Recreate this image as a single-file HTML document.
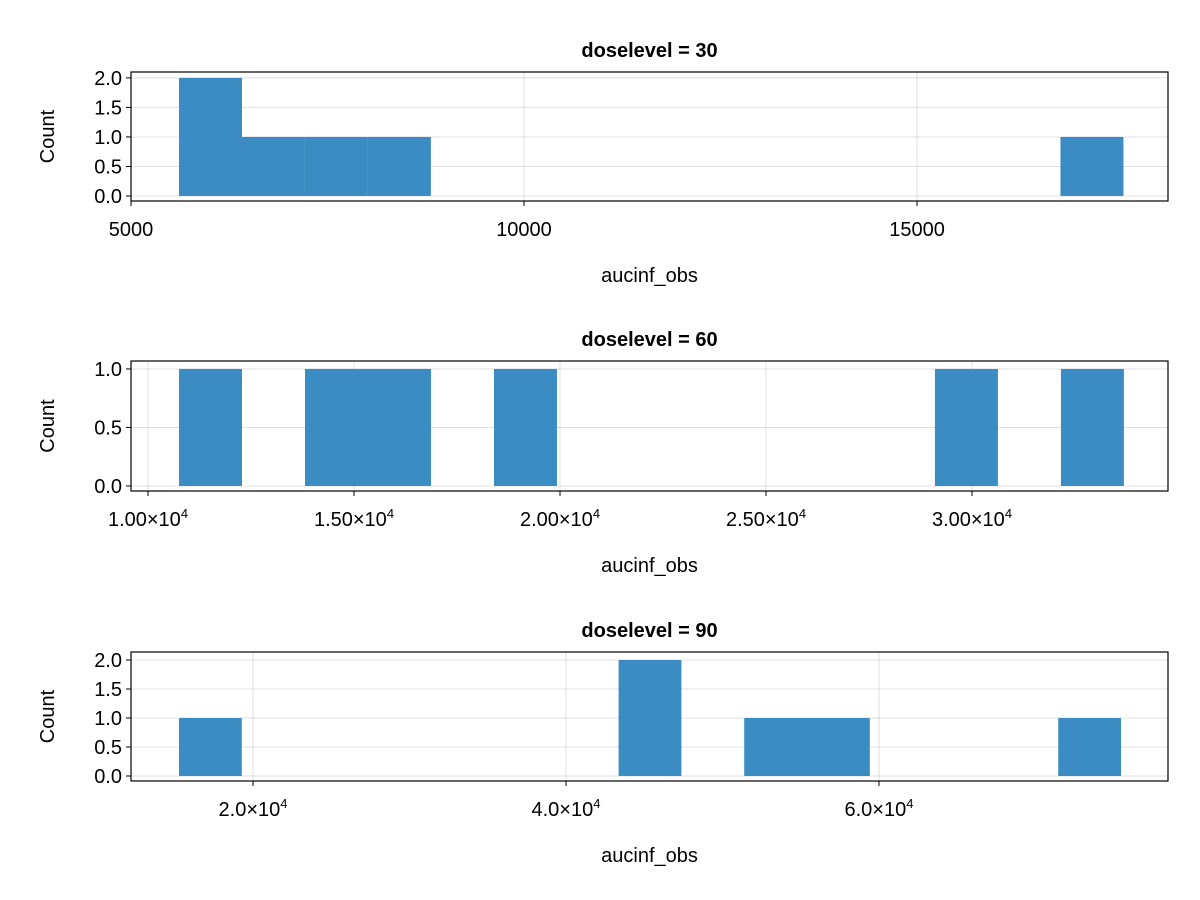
<!DOCTYPE html>
<html><head><meta charset="utf-8"><style>
html,body{margin:0;padding:0;background:#fff;}
svg{display:block;font-family:"Liberation Sans",Arial,sans-serif;}
</style></head><body>
<svg id="chart" width="1200" height="900" viewBox="0 0 1200 900" xmlns="http://www.w3.org/2000/svg"></svg>
<script>
// Panel data
const titles = ["doselevel = 30", "doselevel = 60", "doselevel = 90"];
const binStarts = [5611, 10752, 15272];
const binWidths = [801, 1529, 4013];
const counts30 = [2,1,1,1,0,0,0,0,0,0,0,0,0,0,1];
const counts60 = [1,0,1,1,0,1,0,0,0,0,0,0,1,0,1];
const counts90 = [1,0,0,0,0,0,0,2,0,1,1,0,0,0,1];
const xTicks30 = [5000,10000,15000];
const xTickLabels30 = ["5000","10000","15000"];
const xTicks60 = [10000,15000,20000,25000,30000];
const xTickLabels60 = ["1.00","1.50","2.00","2.50","3.00"];
const xTicks90 = [20000,40000,60000];
const xTickLabels90 = ["2.0","4.0","6.0"];
const yTicks2 = [0,0.5,1,1.5,2];
const yTicks1 = [0,0.5,1];

const panels = [
 {counts:counts30, xt:xTicks30, xl:xTickLabels30, sci:false, yt:yTicks2, xd:[5000,18193], yd:[-0.085,2.10], top:72, bot:201},
 {counts:counts60, xt:xTicks60, xl:xTickLabels60, sci:true, yt:yTicks1, xd:[9587,34757], yd:[-0.043,1.068], top:361, bot:491},
 {counts:counts90, xt:xTicks90, xl:xTickLabels90, sci:true, yt:yTicks2, xd:[12204,78469], yd:[-0.086,2.138], top:652, bot:781}
];
const svg = document.getElementById('chart');
const NS = "http://www.w3.org/2000/svg";
function mk(tag, attrs, parent){const e=document.createElementNS(NS,tag);for(const k in attrs)e.setAttribute(k,attrs[k]);(parent||svg).appendChild(e);return e;}
const L=131,R=1168;
panels.forEach((p,i)=>{
  const g=mk('g',{});
  
  
  const xs=v=>L+(v-p.xd[0])/(p.xd[1]-p.xd[0])*(R-L);
  const ys=v=>p.bot-(v-p.yd[0])/(p.yd[1]-p.yd[0])*(p.bot-p.top);
  // grid
  p.xt.forEach(v=>{const l=mk('line',{x1:xs(v),x2:xs(v),y1:p.top,y2:p.bot,stroke:'#000','stroke-opacity':0.12,'stroke-width':1},g);
    
    });
  p.yt.forEach(v=>{const l=mk('line',{x1:L,x2:R,y1:ys(v),y2:ys(v),stroke:'#000','stroke-opacity':0.12,'stroke-width':1},g);
    
    });
  // bars
  p.counts.forEach((c,k)=>{ if(c<=0)return;
    const x0=xs(binStarts[i]+k*binWidths[i]), x1=xs(binStarts[i]+(k+1)*binWidths[i]);
    const r=mk('rect',{x:x0,y:ys(c),width:x1-x0,height:ys(0)-ys(c),fill:'#3a8cc2'},g);
    
    });
  // frame
  const f=mk('rect',{x:L,y:p.top,width:R-L,height:p.bot-p.top,fill:'none',stroke:'#000','stroke-width':1.2},g);
  
  
  // x ticks
  p.xt.forEach((v,k)=>{
    mk('line',{x1:xs(v),x2:xs(v),y1:p.bot,y2:p.bot+5,stroke:'#000'},g);
    const t=mk('text',{x:xs(v),y:p.bot+35,'text-anchor':'middle','font-size':20,fill:'#000'},g);
    
    
    if(p.sci){t.textContent=p.xl[k]+'×10';const s=mk('tspan',{'font-size':13,dy:-8},t);s.textContent='4';}
    else t.textContent=p.xl[k];
  });
  // y ticks
  p.yt.forEach(v=>{
    mk('line',{x1:L-5,x2:L,y1:ys(v),y2:ys(v),stroke:'#000'},g);
    const t=mk('text',{x:L-9,y:ys(v)+7,'text-anchor':'end','font-size':20,fill:'#000'},g);
    
    
    t.textContent=v.toFixed(1);
  });
  const ti=mk('text',{x:(L+R)/2,y:p.top-15,'text-anchor':'middle','font-size':20,'font-weight':'bold'},g);
  
  
  ti.textContent=titles[i];
  const xl=mk('text',{x:(L+R)/2,y:p.bot+81,'text-anchor':'middle','font-size':20},g);
  
  
  xl.textContent='aucinf_obs';
  const cy=(p.top+p.bot)/2;
  const yl=mk('text',{x:54,y:cy,'text-anchor':'middle','font-size':20,transform:'rotate(-90 54 '+cy+')'},g);
  
  
  yl.textContent='Count';
});
</script>
</body></html>
